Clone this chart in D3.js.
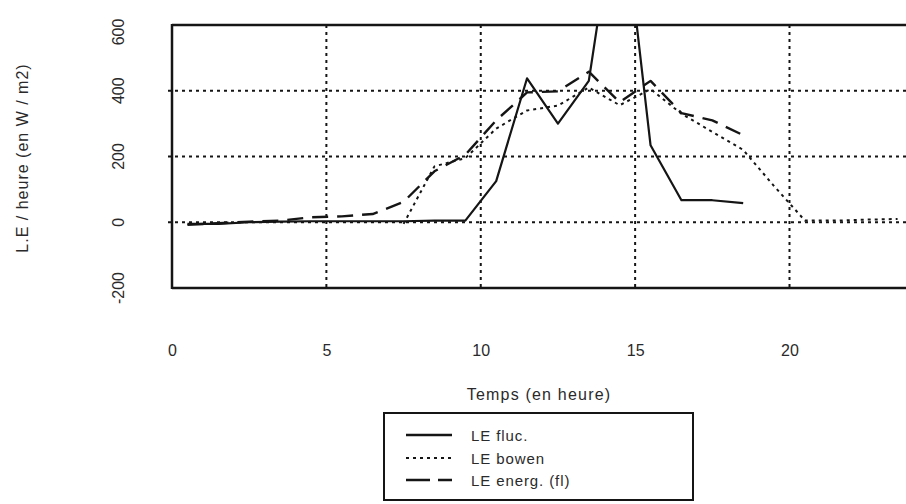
<!DOCTYPE html>
<html>
<head>
<meta charset="utf-8">
<script src="https://cdn.jsdelivr.net/npm/d3@7"></script>
<style>
  html, body { margin: 0; padding: 0; background: #fff; }
  svg { display: block; font-family: "Liberation Sans", Arial, Helvetica, sans-serif; }
</style>
</head>
<body>
<svg id="chart" width="906" height="504"></svg>
<script>
// ---- data ----
const hoursFluc   = [0.5, 1.5, 2.5, 3.5, 4.5, 5.5, 6.5, 7.5, 8.5, 9.5, 10.5, 11.5, 12.5, 13.5, 14.5, 15.5, 16.5, 17.5, 18.5];
const leFluc      = [-5, -5, 0, 2, 3, 3, 3, 3, 5, 5, 125, 438, 300, 430, 1050, 234, 67, 67, 58];

const hoursBowen  = [7.5, 8.5, 9.5, 10.5, 11.5, 12.5, 13.5, 14.5, 15.5, 16.5, 17.5, 18.5, 19.5, 20.5, 21.5, 22.5, 23.5];
const leBowen     = [-5, 170, 195, 285, 340, 355, 410, 356, 405, 330, 275, 220, 110, 5, 5, 8, 10];

const hoursEnerg  = [0.5, 1.5, 2.5, 3.5, 4.5, 5.5, 6.5, 7.5, 8.5, 9.5, 10.5, 11.5, 12.5, 13.5, 14.5, 15.5, 16.5, 17.5, 18.5];
const leEnerg     = [-8, -3, 2, 5, 15, 18, 25, 62, 155, 205, 310, 395, 398, 458, 365, 430, 332, 310, 265];

const xTicks = [0, 5, 10, 15, 20];
const yTicks = [-200, 0, 200, 400, 600];
const legendLabels = ["LE fluc.", "LE bowen", "LE energ. (fl)"];
const xTitle = "Temps (en heure)";
const yTitle = "L.E / heure (en W / m2)";

// ---- layout ----
const svg = d3.select("#chart");
const padL = 172, padT = 25, padB = 288, padR = 913;
const x = d3.scaleLinear().domain([0, 24]).range([padL, padR]);
const y = d3.scaleLinear().domain([-200, 600]).range([padB, padT]);
const ink = "#151515";
const textInk = "#2a2a2a";

svg.append("defs").append("clipPath").attr("id", "plotclip")
  .append("rect").attr("x", padL).attr("y", padT).attr("width", padR - padL).attr("height", padB - padT);

// grid
const grid = svg.append("g");
grid.selectAll("line.h").data([0, 200, 400]).enter().append("line")
  .attr("x1", padL - 4).attr("x2", padR)
  .attr("y1", d => y(d)).attr("y2", d => y(d))
  .attr("stroke", ink).attr("stroke-width", 2).attr("stroke-dasharray", "3,4");
grid.selectAll("line.v").data([5, 10, 15, 20]).enter().append("line")
  .attr("x1", d => x(d)).attr("x2", d => x(d))
  .attr("y1", padT).attr("y2", padB)
  .attr("stroke", ink).attr("stroke-width", 2).attr("stroke-dasharray", "3,4");

// frame
svg.append("line").attr("x1", padL).attr("x2", padR).attr("y1", y(600)).attr("y2", y(600))
  .attr("stroke", ink).attr("stroke-width", 2.5);
svg.append("line").attr("x1", padL).attr("x2", padR).attr("y1", y(-200)).attr("y2", y(-200))
  .attr("stroke", ink).attr("stroke-width", 2.5);
svg.append("line").attr("x1", padL).attr("x2", padL).attr("y1", y(600) - 1).attr("y2", y(-200) + 1)
  .attr("stroke", ink).attr("stroke-width", 2.5);

// series
const line = d3.line().x(d => x(d[0])).y(d => y(d[1]));
const series = [
  { h: hoursFluc,  v: leFluc,  dash: null,     w: 2.2 },
  { h: hoursBowen, v: leBowen, dash: "3,4",    w: 2 },
  { h: hoursEnerg, v: leEnerg, dash: "16,9",   w: 2.4 }
];
const plot = svg.append("g").attr("clip-path", "url(#plotclip)");
series.forEach(s => {
  plot.append("path")
    .datum(s.h.map((h, i) => [h, s.v[i]]))
    .attr("d", line)
    .attr("fill", "none")
    .attr("stroke", ink)
    .attr("stroke-width", s.w)
    .attr("stroke-linejoin", "round")
    .attr("stroke-dasharray", s.dash);
});

// x axis labels (via d3 axis, domain/ticks lines hidden)
const xAxis = svg.append("g").attr("transform", "translate(0,345)")
  .call(d3.axisBottom(x).tickValues(xTicks).tickSize(0).tickPadding(0).tickFormat(d3.format("d")));
xAxis.select(".domain").remove();
xAxis.selectAll("text").attr("font-size", 16).attr("fill", textInk)
  .attr("font-family", "'Liberation Sans', Arial, sans-serif");

// y axis labels (rotated)
const yAxis = svg.append("g");
yAxis.selectAll("text").data(yTicks).enter().append("text")
  .attr("transform", d => `translate(118,${y(d) + (d === 600 ? 7 : 0)}) rotate(-90)`)
  .attr("text-anchor", "middle").attr("dominant-baseline", "central")
  .attr("font-size", 16).attr("fill", textInk)
  .text(d => d);

// titles
svg.append("text").attr("x", 539).attr("y", 400).attr("text-anchor", "middle")
  .attr("font-size", 16).attr("letter-spacing", 1.2).attr("fill", textInk).text(xTitle);
svg.append("text").attr("transform", "translate(22,158) rotate(-90)")
  .attr("text-anchor", "middle").attr("dominant-baseline", "central")
  .attr("font-size", 16).attr("letter-spacing", 1).attr("fill", textInk).text(yTitle);

// legend
const lg = svg.append("g");
lg.append("rect").attr("x", 384).attr("y", 413).attr("width", 309).attr("height", 87)
  .attr("fill", "none").attr("stroke", ink).attr("stroke-width", 2);
const rowY = [435, 458, 480];
const legDash = [null, "3,4", "24,8"];
legendLabels.forEach((lab, i) => {
  lg.append("line").attr("x1", 406).attr("x2", 452).attr("y1", rowY[i]).attr("y2", rowY[i])
    .attr("stroke", ink).attr("stroke-width", i === 1 ? 2 : 2.4).attr("stroke-dasharray", legDash[i]);
  lg.append("text").attr("x", 471).attr("y", rowY[i]).attr("dominant-baseline", "central")
    .attr("font-size", 15).attr("letter-spacing", 0.9).attr("fill", textInk).text(lab);
});
</script>
</body>
</html>
